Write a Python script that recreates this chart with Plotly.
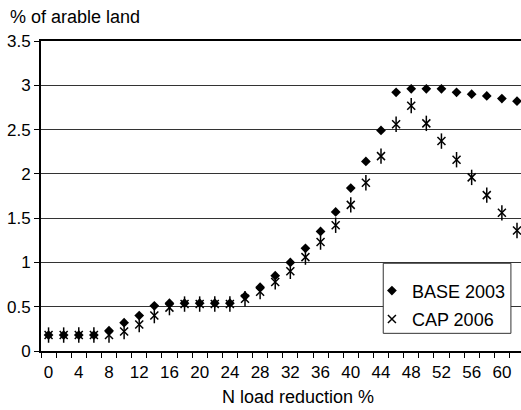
import plotly.graph_objects as go

# N load reduction steps (%)
reduction = list(range(0, 63, 2))

# Share of arable land (%) for each scenario
base_2003 = [0.18, 0.18, 0.18, 0.18, 0.23, 0.32, 0.40, 0.51, 0.54, 0.54,
             0.54, 0.54, 0.54, 0.62, 0.72, 0.85, 1.00, 1.16, 1.35, 1.57,
             1.84, 2.14, 2.49, 2.92, 2.96, 2.96, 2.96, 2.92, 2.90, 2.88,
             2.85, 2.82]
cap_2006 = [0.18, 0.18, 0.18, 0.18, 0.18, 0.22, 0.30, 0.40, 0.49, 0.53,
            0.53, 0.53, 0.53, 0.59, 0.67, 0.78, 0.90, 1.06, 1.23, 1.42,
            1.65, 1.90, 2.20, 2.56, 2.77, 2.57, 2.37, 2.16, 1.96, 1.76,
            1.56, 1.36]

x_tick_labels = list(range(0, 61, 4))
y_ticks = [0, 0.5, 1, 1.5, 2, 2.5, 3, 3.5]

FONT = "Liberation Sans, Arial, sans-serif"

fig = go.Figure()

fig.add_trace(go.Scatter(
    x=reduction, y=base_2003, mode="markers", name="BASE 2003",
    legendgroup="base",
    marker=dict(symbol="diamond", size=7.5, color="black",
                line=dict(width=0)),
))
# six-armed asterisk: an x plus a vertical stroke
fig.add_trace(go.Scatter(
    x=reduction, y=cap_2006, mode="markers", name="CAP 2006",
    legendgroup="cap",
    marker=dict(symbol="x-thin-open", size=8, color="black",
                line=dict(width=1.5, color="black")),
))
fig.add_trace(go.Scatter(
    x=reduction, y=cap_2006, mode="markers", name="CAP 2006",
    legendgroup="cap", showlegend=False,
    marker=dict(symbol="line-ns-open", size=11, color="black",
                line=dict(width=1.5, color="black")),
))

fig.update_layout(
    width=521, height=410,
    margin=dict(l=41, r=0, t=41, b=59),
    paper_bgcolor="white", plot_bgcolor="white",
    font=dict(family=FONT, size=17, color="black"),
    showlegend=True,
    legend=dict(
        x=0.979, y=0.044, xanchor="right", yanchor="bottom",
        bgcolor="rgba(0,0,0,0)", borderwidth=0,
        font=dict(family=FONT, size=18, color="black"),
        tracegroupgap=2, itemwidth=30,
    ),
    # legend frame
    shapes=[
        dict(type="rect", xref="paper", yref="paper",
             x0=0.713, x1=0.979, y0=0.057, y1=0.283,
             fillcolor="white", line=dict(color="#333", width=1),
             layer="above"),
    ],
    xaxis=dict(
        range=[-1, 62.53], tickmode="array", tickvals=x_tick_labels,
        ticktext=[str(v) for v in x_tick_labels],
        ticks="outside", ticklen=5, tickcolor="rgba(0,0,0,0)",
        showgrid=False, zeroline=False,
        showline=True, linecolor="black", linewidth=2, mirror=True,
        tickfont=dict(size=17),
        minor=dict(tickmode="linear", tick0=1, dtick=2, ticks="outside",
                   ticklen=5, tickcolor="black", tickwidth=1,
                   showgrid=False),
    ),
    yaxis=dict(
        range=[0, 3.5], tickmode="array", tickvals=y_ticks,
        ticktext=["0", "0.5", "1", "1.5", "2", "2.5", "3", "3.5"],
        ticks="outside", ticklen=5, tickcolor="black",
        showgrid=True, gridcolor="#333", gridwidth=1,
        zeroline=False,
        showline=True, linecolor="black", linewidth=2,
        tickfont=dict(size=17),
    ),
    annotations=[
        dict(text="% of arable land", xref="paper", yref="paper",
             x=-0.068, y=1.0775, xanchor="left", yanchor="middle",
             showarrow=False, font=dict(size=18)),
        dict(text="N load reduction %", xref="paper", yref="paper",
             x=0.536, y=-0.148, xanchor="center", yanchor="middle",
             showarrow=False, font=dict(size=18)),
    ],
)

fig.write_html("out.html")
